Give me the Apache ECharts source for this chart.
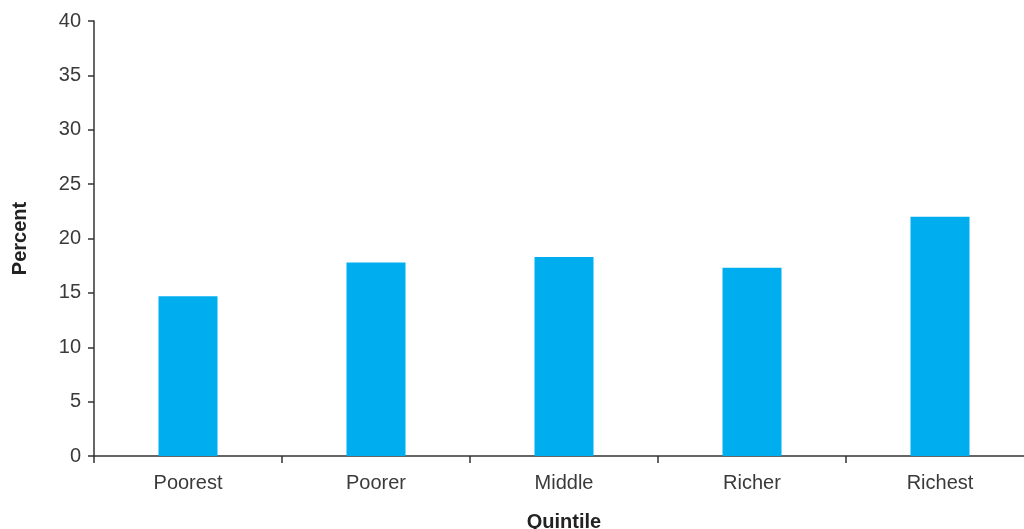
<!DOCTYPE html>
<html>
<head>
<meta charset="utf-8">
<script src="https://cdn.jsdelivr.net/npm/echarts@6/dist/echarts.min.js"></script>
<style>
  html, body { margin: 0; padding: 0; background: #fff; }
  #chart { width: 1024px; height: 529px; }
</style>
</head>
<body>
<div id="chart"></div>
<script>
// quintile shares (percent)
const categories = ['Poorest', 'Poorer', 'Middle', 'Richer', 'Richest'];
const percentValues = [14.7, 17.8, 18.3, 17.3, 22.0];
const barColor = '#00aeef';

const myChart = echarts.init(document.getElementById('chart'));
const option = {
  animation: false,
  grid: { left: 94, top: 21, right: -10, bottom: 73, outerBoundsMode: 'none', containLabel: false },
  xAxis: {
    type: 'category',
    data: categories,
    name: 'Quintile',
    nameLocation: 'middle',
    nameGap: 56,
    nameTextStyle: { fontFamily: 'Liberation Sans', fontSize: 20, fontWeight: 'bold', color: '#222' },
    axisLine: { lineStyle: { color: '#333', width: 1.5 } },
    axisTick: { show: true, length: 7, lineStyle: { color: '#333', width: 1.5 } },
    axisLabel: { fontFamily: 'Liberation Sans', fontSize: 20, color: '#3a3a3a', margin: 17 }
  },
  yAxis: {
    type: 'value',
    min: 0,
    max: 40,
    interval: 5,
    name: 'Percent',
    nameLocation: 'middle',
    nameGap: 64,
    nameTextStyle: { fontFamily: 'Liberation Sans', fontSize: 20, fontWeight: 'bold', color: '#222' },
    axisLine: { show: true, lineStyle: { color: '#333', width: 1.5 } },
    axisTick: { show: true, length: 6, lineStyle: { color: '#333', width: 1.5 } },
    axisLabel: { fontFamily: 'Liberation Sans', fontSize: 20, color: '#3a3a3a', margin: 13 },
    splitLine: { show: false }
  },
  series: [{
    type: 'bar',
    data: percentValues,
    barWidth: 59,
    itemStyle: { color: barColor }
  }]
};
myChart.setOption(option);
</script>
</body>
</html>
